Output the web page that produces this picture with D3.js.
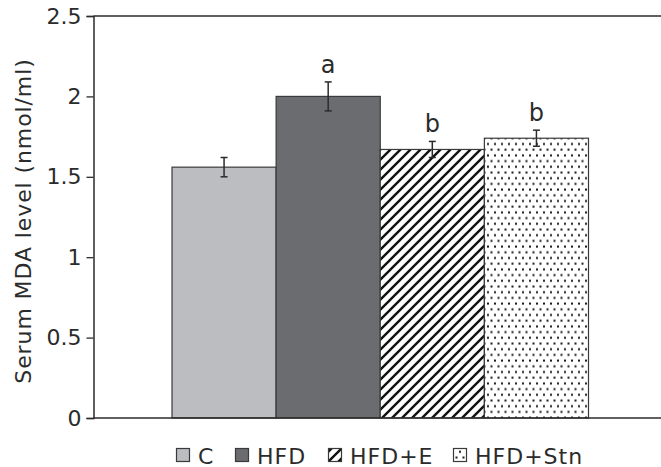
<!DOCTYPE html>
<html>
<head>
<meta charset="utf-8">
<script src="https://cdn.jsdelivr.net/npm/d3@7"></script>
<style>
  html, body { margin: 0; padding: 0; background: #fff; }
  svg { display: block; font-family: "DejaVu Sans", Verdana, sans-serif; }
</style>
</head>
<body>
<svg id="chart" width="661" height="467"></svg>
<script>
// Serum MDA level by group (mean ± SE) with significance letters
const groups = ["C", "HFD", "HFD+E", "HFD+Stn"];
const means = [1.56, 2.0, 1.67, 1.74];
const errors = [0.06, 0.09, 0.05, 0.05];
const sigLetters = ["", "a", "b", "b"];
const yTicks = [0, 0.5, 1, 1.5, 2, 2.5];
const yTickLabels = ["0", "0.5", "1", "1.5", "2", "2.5"];

const svg = d3.select("#chart");
const ink = "#2b2b2b";

// Plot frame
const frame = { left: 93.5, top: 16, bottom: 418, right: 680 };

const y = d3.scaleLinear().domain([0, 2.5]).range([frame.bottom, frame.top]);
const x = d3.scaleBand().domain(groups).range([172, 588.5]).padding(0);

// Fill patterns
const defs = svg.append("defs");
const hatch = defs.append("pattern")
  .attr("id", "hatch").attr("patternUnits", "userSpaceOnUse")
  .attr("width", 10).attr("height", 10);
hatch.append("rect").attr("width", 10).attr("height", 10).attr("fill", "#fff");
hatch.append("path")
  .attr("d", "M-2,2 L2,-2 M0,10 L10,0 M8,12 L12,8")
  .attr("stroke", "#111").attr("stroke-width", 2.4);

const dots = defs.append("pattern")
  .attr("id", "dots").attr("patternUnits", "userSpaceOnUse")
  .attr("width", 7).attr("height", 11.4);
dots.append("rect").attr("width", 7).attr("height", 11.4).attr("fill", "#fff");
dots.append("rect").attr("x", 0.5).attr("y", 0.5).attr("width", 2).attr("height", 2).attr("fill", "#1a1a1a");
dots.append("rect").attr("x", 4).attr("y", 6.2).attr("width", 2).attr("height", 2).attr("fill", "#1a1a1a");

const fills = ["#bcbdc1", "#6b6c70", "url(#hatch)", "url(#dots)"];
const fillScale = d3.scaleOrdinal().domain(groups).range(fills);

// Bars
svg.append("g").selectAll("rect")
  .data(groups)
  .join("rect")
  .attr("x", d => x(d))
  .attr("y", (d, i) => y(means[i]))
  .attr("width", x.bandwidth())
  .attr("height", (d, i) => y(0) - y(means[i]))
  .attr("fill", d => fillScale(d))
  .attr("stroke", "#3a3a3a")
  .attr("stroke-width", 1.2);

// Error bars
const eb = svg.append("g").attr("stroke", ink).attr("stroke-width", 1.5).attr("fill", "none");
groups.forEach((g, i) => {
  const cx = x(g) + x.bandwidth() / 2;
  const lo = y(means[i] - errors[i]);
  const hi = y(means[i] + errors[i]);
  eb.append("line").attr("x1", cx).attr("x2", cx).attr("y1", lo).attr("y2", hi);
  eb.append("line").attr("x1", cx - 3.5).attr("x2", cx + 3.5).attr("y1", lo).attr("y2", lo);
  eb.append("line").attr("x1", cx - 3.5).attr("x2", cx + 3.5).attr("y1", hi).attr("y2", hi);
});

// Significance letters
svg.append("g").selectAll("text")
  .data(groups)
  .join("text")
  .attr("x", d => x(d) + x.bandwidth() / 2)
  .attr("y", (d, i) => y(means[i] + errors[i]) - 9)
  .attr("text-anchor", "middle")
  .attr("font-size", 24)
  .attr("fill", ink)
  .text((d, i) => sigLetters[i]);

// Frame lines: left axis, top and bottom edges
svg.append("line")
  .attr("x1", frame.left).attr("x2", frame.right)
  .attr("y1", frame.top).attr("y2", frame.top)
  .attr("stroke", ink).attr("stroke-width", 1.5);
svg.append("line")
  .attr("x1", frame.left).attr("x2", frame.right)
  .attr("y1", frame.bottom).attr("y2", frame.bottom)
  .attr("stroke", ink).attr("stroke-width", 1.5);

const yAxis = d3.axisLeft(y)
  .tickValues(yTicks)
  .tickFormat((d, i) => yTickLabels[i])
  .tickSize(7)
  .tickPadding(5);
const gy = svg.append("g").attr("transform", `translate(${frame.left},0)`).call(yAxis);
gy.select(".domain").attr("stroke", ink).attr("stroke-width", 1.5);
gy.selectAll(".tick line").attr("stroke", ink).attr("stroke-width", 1.3);
gy.selectAll(".tick text")
  .attr("font-family", "DejaVu Sans, Verdana, sans-serif")
  .attr("font-size", 22)
  .attr("fill", ink);

// Y axis title
svg.append("text")
  .attr("transform", `translate(31,${(frame.top + frame.bottom) / 2 + 4}) rotate(-90)`)
  .attr("text-anchor", "middle")
  .attr("font-size", 22)
  .attr("letter-spacing", 0.9)
  .attr("fill", ink)
  .text("Serum MDA level (nmol/ml)");

// Legend
const legendX = [176, 235, 328, 453];
const legend = svg.append("g");
groups.forEach((g, i) => {
  legend.append("rect")
    .attr("x", legendX[i] + 0.5).attr("y", 448.5)
    .attr("width", 13).attr("height", 13)
    .attr("fill", fillScale(g))
    .attr("stroke", "#3a3a3a").attr("stroke-width", 1.2);
  legend.append("text")
    .attr("x", legendX[i] + 22)
    .attr("y", 463.5)
    .attr("font-size", 22)
    .attr("letter-spacing", 1)
    .attr("fill", ink)
    .text(g);
});
</script>
</body>
</html>
